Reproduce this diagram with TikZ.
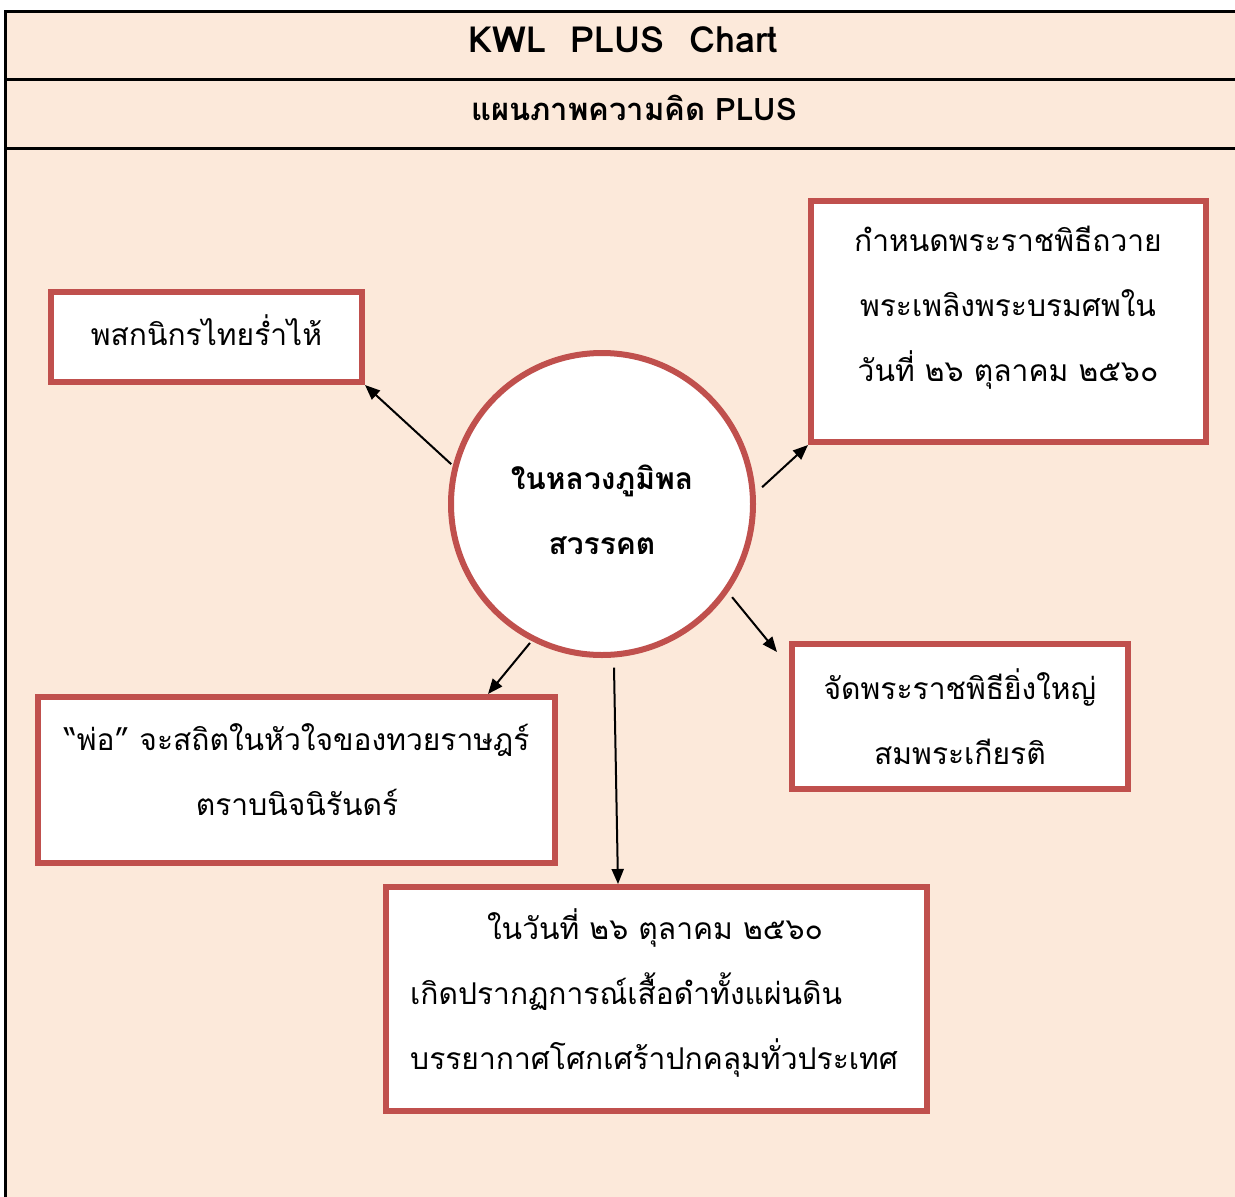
\documentclass[tikz,border=0pt]{standalone}
\usepackage{fontspec}
\setmainfont[Script=Thai]{Loma}
\usetikzlibrary{arrows.meta,calc}
\definecolor{peach}{HTML}{FCE9DA}
\definecolor{boxred}{HTML}{C0504D}
\begin{document}
\begin{tikzpicture}[x=1pt,y=-1pt,
  redbox/.style={draw=boxred,line width=6pt,fill=white,rectangle,inner sep=0pt},
  bodytext/.style={font=\fontsize{30}{65}\selectfont,align=center,inner sep=0pt},
  headtext/.style={font=\fontsize{32}{40}\selectfont\bfseries,inner sep=0pt},
  arr/.style={-{Triangle[length=15pt,width=12pt]},line width=2pt},
  rulestyle/.style={line width=3pt,black}]
\useasboundingbox (0,0) rectangle (1235,1197);
\fill[peach] (5,11) rectangle (1235,1197);
\draw[rulestyle] (5,1197) -- (5,11) -- (1235,11);
\draw[rulestyle] (5,79) -- (1235,79);
\draw[rulestyle] (5,148) -- (1235,148);

\node[headtext,font=\fontsize{36}{40}\selectfont\bfseries] (title) at (623,40) {KWL\ \ PLUS\ \ Chart};
\node[headtext,font=\fontsize{31}{40}\selectfont\bfseries] (subtitle) at (634,108) {แผนภาพความคิด PLUS};

% boxes
\node[redbox,minimum width=311pt,minimum height=90pt] (b1) at (206.5,337) {};
\node[redbox,minimum width=395pt,minimum height=241pt] (b2) at (1008.5,321.5) {};
\node[redbox,minimum width=517pt,minimum height=166pt] (b3) at (296.5,780) {};
\node[redbox,minimum width=336pt,minimum height=145pt] (b4) at (960,716.5) {};
\node[redbox,minimum width=541pt,minimum height=224pt] (b5) at (656.5,999) {};
\node[circle,draw=boxred,line width=6pt,fill=white,minimum size=302pt,inner sep=0pt] (c) at (602,504) {};

% texts
\node[bodytext] (t1) at (206.5,330) {พสกนิกรไทยร่ำไห้};
\node[bodytext] (t2) at (1008,308) {กำหนดพระราชพิธีถวาย\\พระเพลิงพระบรมศพใน\\วันที่ ๒๖ ตุลาคม ๒๕๖๐};
\node[bodytext] (t3) at (297,770) {“พ่อ” จะสถิตในหัวใจของทวยราษฎร์\\ตราบนิจนิรันดร์};
\node[bodytext] (t4) at (960,717) {จัดพระราชพิธียิ่งใหญ่\\สมพระเกียรติ};
\node[bodytext] (t5a) at (655,928) {ในวันที่ ๒๖ ตุลาคม ๒๕๖๐};
\node[bodytext,align=left,anchor=west] (t5b) at (410,1025) {เกิดปรากฏการณ์เสื้อดำทั้งแผ่นดิน\\บรรยากาศโศกเศร้าปกคลุมทั่วประเทศ};
\node[font=\fontsize{30}{65}\selectfont\bfseries,align=center,inner sep=0pt] (ct) at (602,510) {ในหลวงภูมิพล\\สวรรคต};

% connectors (y axis points down, so angles are negated)
\draw[arr] ($(c.center)+(-165.2:156)$) -- (b1.south east);
\draw[arr] ($(c.center)+(-6:161)$) -- (b2.south west);
\draw[arr] ($(c.center)+(35.6:160)$) -- ([shift={(-12,11)}]b4.north west);
\draw[arr] ($(c.center)+(117.4:156.5)$) -- ([xshift=191.5pt]b3.north);
\draw[arr] ($(c.center)+(85.8:164)$) -- ([xshift=-38.5pt]b5.north);
\end{tikzpicture}
\end{document}
